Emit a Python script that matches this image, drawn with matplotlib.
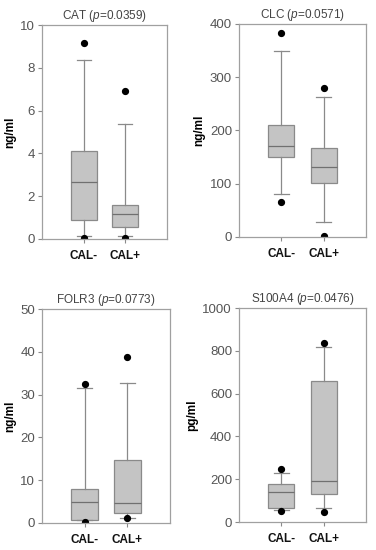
import matplotlib
matplotlib.use("Agg")
import matplotlib.pyplot as plt

plt.rcParams['font.family'] = ['Liberation Sans', 'DejaVu Sans']
plt.rcParams['mathtext.fontset'] = 'custom'
plt.rcParams['mathtext.rm'] = 'Liberation Sans'
plt.rcParams['mathtext.it'] = 'Liberation Sans:italic'

groups = ["CAL-", "CAL+"]

titles = ["CAT", "CLC", "FOLR3", "S100A4"]
pvalues = ["0.0359", "0.0571", "0.0773", "0.0476"]
units = ["ng/ml", "ng/ml", "ng/ml", "pg/ml"]
ymax = [10, 400, 50, 1000]
ystep = [2, 100, 10, 200]

# per panel: [CAL-, CAL+]
q1 = [[0.87, 0.58], [151, 101], [0.8, 2.3], [67, 129]]
med = [[2.64, 1.19], [171, 131], [4.9, 4.7], [142, 192]]
q3 = [[4.13, 1.61], [210, 168], [8.0, 14.7], [178, 658]]
whislo = [[0.12, 0.16], [81, 29], [0.8, 1.25], [56, 67]]
whishi = [[8.36, 5.37], [350, 262], [31.5, 32.8], [231, 817]]
fliers = [[[9.17, 0.06], [6.93, 0.05]],
          [[383, 66], [280, 1]],
          [[32.4, 0.3], [38.8, 1.1]],
          [[247, 52], [838, 45]]]

rects = [[0.1117, 0.5655, 0.3324, 0.389],
         [0.6356, 0.5691, 0.3378, 0.3873],
         [0.1117, 0.0491, 0.3404, 0.389],
         [0.6356, 0.0509, 0.3378, 0.389]]

edge = "#8a8a8a"
fig = plt.figure(figsize=(3.76, 5.5), dpi=100)
for i in range(4):
    ax = fig.add_axes(rects[i])
    stats = []
    for g in range(2):
        stats.append(dict(med=med[i][g], q1=q1[i][g], q3=q3[i][g],
                          whislo=whislo[i][g], whishi=whishi[i][g],
                          fliers=fliers[i][g], label=groups[g]))
    ax.bxp(stats, positions=[1, 2], widths=0.62, capwidths=0.34,
           patch_artist=True,
           boxprops=dict(facecolor="#c4c4c4", edgecolor=edge, linewidth=0.9),
           medianprops=dict(color="#707070", linewidth=0.9),
           whiskerprops=dict(color=edge, linewidth=0.9),
           capprops=dict(color=edge, linewidth=0.9),
           flierprops=dict(marker="o", markerfacecolor="black",
                           markeredgecolor="black", markersize=4.2))
    ax.set_xlim(0, 3)
    ax.set_ylim(0, ymax[i])
    ax.set_yticks([ystep[i] * k for k in range(int(ymax[i] / ystep[i]) + 1)])
    ax.set_xticks([1, 2])
    ax.set_xticklabels(groups, fontweight="bold", fontsize=8.5, color="#111111")
    ax.tick_params(axis="y", labelsize=9.5, labelcolor="#555555", color=edge,
                   length=3, width=0.8, direction="out", pad=2)
    ax.tick_params(axis="x", color=edge, length=3, width=0.8, pad=5)
    for s in ax.spines.values():
        s.set_color("#a0a0a0")
        s.set_linewidth(0.9)
    ax.set_ylabel(units[i], fontweight="bold", fontsize=8.5, labelpad=3)
    ax.set_title(titles[i] + " ($\\it{p}$=" + pvalues[i] + ")",
                 fontsize=8.5, color="#444444", pad=4)

fig.savefig("out.png", dpi=100)
